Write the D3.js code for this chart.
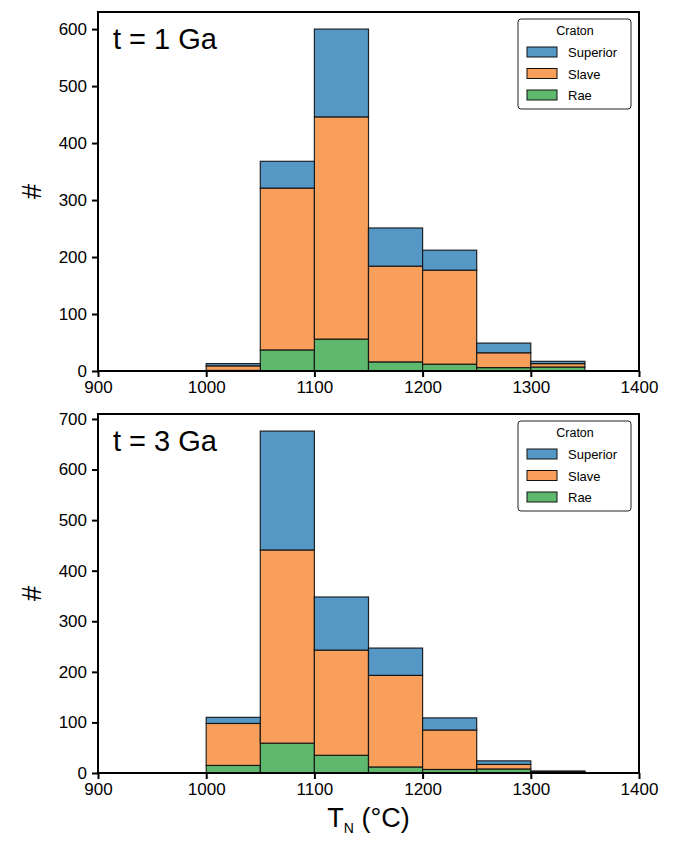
<!DOCTYPE html>
<html>
<head>
<meta charset="utf-8">
<script src="https://cdn.jsdelivr.net/npm/d3@7"></script>
<style>
  body { margin: 0; background: #fff; }
  svg { font-family: "Liberation Sans", Arial, sans-serif; }
</style>
</head>
<body>
<div id="chart"></div>
<script>
// bin edges (°C) and counts
const binEdges = [1000, 1050, 1100, 1150, 1200, 1250, 1300, 1350];
const cratons = ["Superior", "Slave", "Rae"];
const colors = { Superior: "#5598c6", Slave: "#f8a05b", Rae: "#5eb86e" };
const xTicks = [900, 1000, 1100, 1200, 1300, 1400];

// t = 1 Ga
const rae1 = [1, 37, 56, 16, 12, 6, 7];
const slave1 = [8, 284, 390, 168, 165, 26, 6];
const superior1 = [4, 47, 154, 67, 35, 17, 4];

// t = 3 Ga
const rae3 = [15, 59, 35, 12, 7, 8, 1];
const slave3 = [83, 382, 208, 181, 78, 9, 2];
const superior3 = [12, 235, 105, 54, 24, 7, 1];

const panels = [
  { title: "t = 1 Ga", Rae: rae1, Slave: slave1, Superior: superior1, top: 12, bottom: 371 },
  { title: "t = 3 Ga", Rae: rae3, Slave: slave3, Superior: superior3, top: 414, bottom: 773 },
];

const width = 675, height = 841;
const left = 98, right = 639;

const svg = d3.select("#chart").append("svg")
  .attr("width", width)
  .attr("height", height);

const x = d3.scaleLinear().domain([900, 1400]).range([left, right]);

panels.forEach((p) => {
  const rows = binEdges.slice(0, -1).map((x0, i) => ({
    x0, x1: binEdges[i + 1],
    Rae: p.Rae[i], Slave: p.Slave[i], Superior: p.Superior[i],
  }));
  // Rae at the bottom, Superior on top
  const stack = d3.stack().keys(["Rae", "Slave", "Superior"])(rows);
  const maxTotal = d3.max(rows, (d) => d.Rae + d.Slave + d.Superior);

  const y = d3.scaleLinear().domain([0, maxTotal * 1.05]).range([p.bottom, p.top]);
  const g = svg.append("g");

  stack.forEach((layer) => {
    g.append("g").selectAll("rect")
      .data(layer)
      .join("rect")
      .attr("x", (d) => x(d.data.x0))
      .attr("y", (d) => y(d[1]))
      .attr("width", (d) => x(d.data.x1) - x(d.data.x0))
      .attr("height", (d) => y(d[0]) - y(d[1]))
      .attr("fill", colors[layer.key])
      .attr("stroke", "#111")
      .attr("stroke-opacity", 0.9)
      .attr("stroke-width", 1.2);
  });

  // axes
  const xAxis = g.append("g")
    .attr("transform", `translate(0,${p.bottom})`)
    .call(d3.axisBottom(x).tickValues(xTicks).tickSize(6).tickPadding(4).tickFormat(d3.format("d")));
  const yAxis = g.append("g")
    .attr("transform", `translate(${left},0)`)
    .call(d3.axisLeft(y).tickValues(d3.range(0, maxTotal * 1.05, 100)).tickSize(6).tickPadding(5));

  [xAxis, yAxis].forEach((a) => {
    a.select(".domain").remove();
    a.selectAll("line").attr("stroke", "#000").attr("stroke-width", 2);
    a.selectAll("text").attr("font-size", 17).attr("fill", "#000");
  });

  // frame
  g.append("rect")
    .attr("x", left).attr("y", p.top)
    .attr("width", right - left).attr("height", p.bottom - p.top)
    .attr("fill", "none").attr("stroke", "#000").attr("stroke-width", 2);

  // y label
  g.append("text")
    .attr("transform", `translate(41,${(p.top + p.bottom) / 2}) rotate(-90)`)
    .attr("text-anchor", "middle")
    .attr("font-size", 27)
    .text("#");

  // panel title
  g.append("text")
    .attr("x", 113).attr("y", p.top + 37)
    .attr("font-size", 29)
    .text(p.title);

  // legend
  const lg = g.append("g").attr("transform", `translate(518,${p.top + 7})`);
  lg.append("rect")
    .attr("width", 113).attr("height", 90).attr("rx", 3)
    .attr("fill", "#fff").attr("stroke", "#222").attr("stroke-width", 1);
  lg.append("text")
    .attr("x", 57).attr("y", 16)
    .attr("text-anchor", "middle")
    .attr("font-size", 12.5)
    .text("Craton");
  cratons.forEach((c, i) => {
    lg.append("rect")
      .attr("x", 9).attr("y", 28 + i * 21.5)
      .attr("width", 30).attr("height", 10)
      .attr("fill", colors[c]).attr("stroke", "#111").attr("stroke-width", 1);
    lg.append("text")
      .attr("x", 50).attr("y", 38 + i * 21.5)
      .attr("font-size", 13)
      .text(c);
  });
});

// x label
const xl = svg.append("text")
  .attr("x", (left + right) / 2).attr("y", 827)
  .attr("text-anchor", "middle")
  .attr("font-size", 27);
xl.append("tspan").text("T");
xl.append("tspan").attr("font-size", 14).attr("dy", 6).text("N");
xl.append("tspan").attr("dy", -6).text(" (°C)");
</script>
</body>
</html>
